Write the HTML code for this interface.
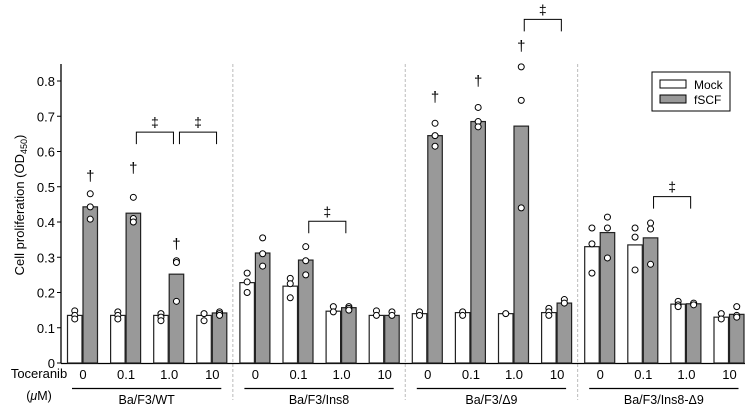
<!DOCTYPE html>
<html><head><meta charset="utf-8"><style>
html,body{margin:0;padding:0;background:#fff;}
svg{display:block;font-family:"Liberation Sans",Arial,sans-serif;}
</style></head><body>
<svg id="chart" width="749" height="406"></svg>
<script>
const groups=["Ba/F3/WT","Ba/F3/Ins8","Ba/F3/Δ9","Ba/F3/Ins8-Δ9"];
const doses=["0","0.1","1.0","10"];
const mockVals=[0.135,0.135,0.135,0.135, 0.228,0.218,0.147,0.135, 0.14,0.143,0.14,0.143, 0.33,0.335,0.167,0.13];
const fscfVals=[0.443,0.425,0.252,0.142, 0.312,0.292,0.157,0.135, 0.645,0.685,0.672,0.17, 0.37,0.355,0.168,0.138];
const mockPts=[[0.148,0.135,0.125],[0.145,0.135,0.125],[0.14,0.13,0.12],[0.14,0.12],
 [0.255,0.23,0.2],[0.24,0.225,0.185],[0.16,0.145],[0.148,0.135],
 [0.145,0.135],[0.145,0.135],[0.14],[0.155,0.145,0.135],
 [0.383,0.338,0.255],[0.383,0.357,0.264],[0.175,0.165,0.16],[0.14,0.125]];
const fscfPts=[[0.48,0.443,0.408],[0.47,0.41,0.40],[0.29,0.285,0.175],[0.145,0.14,0.135],
 [0.355,0.31,0.275],[0.33,0.29,0.25],[0.16,0.155,0.15],[0.145,0.135],
 [0.68,0.645,0.615],[0.725,0.685,0.67],[0.84,0.745,0.44],[0.18,0.17],
 [0.414,0.383,0.298],[0.397,0.38,0.28],[0.17,0.165],[0.16,0.135,0.13]];
const yTicks=[0,0.1,0.2,0.3,0.4,0.5,0.6,0.7,0.8];
const daggerIdx=[0,1,2,8,9,10];
const daggerVals=[0.53,0.553,0.338,0.755,0.80,0.90];
const bracketPairs=[[1,2],[2,3],[5,6],[10,11],[13,14]];
const bracketVals=[0.655,0.655,0.402,0.975,0.472];

const svg=document.getElementById('chart');
const NS='http://www.w3.org/2000/svg';
function mk(tag,attrs,parent){const e=document.createElementNS(NS,tag);for(const k in attrs)e.setAttribute(k,attrs[k]);(parent||svg).appendChild(e);return e;}
const y=v=>363-v*352.5;
const cx=i=>82+i*43.1;
const BW=14.5;

for(let g=1;g<4;g++){const xd=(cx(g*4-1)+cx(g*4))/2;
 const d=mk('line',{x1:xd,x2:xd,y1:64,y2:400,stroke:'#bbb','stroke-dasharray':'3,2','stroke-width':1});
 
 }
const ax=mk('line',{x1:61,x2:61,y1:64,y2:363.5,stroke:'#000','stroke-width':1.3});


const xa=mk('line',{x1:61,x2:745,y1:363.5,y2:363.5,stroke:'#000','stroke-width':1.3});


yTicks.forEach(t=>{
 mk('line',{x1:57,x2:61,y1:y(t),y2:y(t),stroke:'#000'});
 const tx=mk('text',{x:55,y:y(t)+5,'text-anchor':'end','font-size':13});
 tx.textContent=t===0?'0':t.toFixed(1);
 
 
});
const yl=mk('text',{x:0,y:0,'text-anchor':'middle','font-size':13,transform:'translate(24,205) rotate(-90)'});
yl.innerHTML='Cell proliferation (OD<tspan font-size="9" dy="3">450</tspan><tspan dy="-3">)</tspan>';



for(let i=0;i<16;i++){
 const c=cx(i);
 const mb=mk('rect',{x:c-BW,y:y(mockVals[i]),width:BW,height:363-y(mockVals[i]),fill:'#fff',stroke:'#222','stroke-width':1.2});
 
 
 const fb=mk('rect',{x:c+1,y:y(fscfVals[i]),width:BW,height:363-y(fscfVals[i]),fill:'#999',stroke:'#222','stroke-width':1.2});
 
 
 mockPts[i].forEach(v=>{const p=mk('circle',{cx:c-BW/2,cy:y(v),r:3,fill:'#fff',stroke:'#000','stroke-width':1});
  
  });
 fscfPts[i].forEach(v=>{const p=mk('circle',{cx:c+1+BW/2,cy:y(v),r:3,fill:'#fff',stroke:'#000','stroke-width':1});
  
  });
 const dl=mk('text',{x:c+1,y:379,'text-anchor':'middle','font-size':13});
 dl.textContent=doses[i%4];
 
 
}
groups.forEach((g,k)=>{
 const x1=cx(k*4)-10,x2=cx(k*4+3)+10;
 mk('line',{x1:x1,x2:x2,y1:388.5,y2:388.5,stroke:'#000','stroke-width':1.3});
 const t=mk('text',{x:(x1+x2)/2,y:404,'text-anchor':'middle','font-size':12.5});
 t.textContent=g;
 
 
});
const tl=mk('text',{x:39,y:378,'text-anchor':'middle','font-size':13});tl.textContent='Toceranib';


const ul=mk('text',{x:39,y:400,'text-anchor':'middle','font-size':12.5});ul.innerHTML='(<tspan font-style="italic">μ</tspan>M)';



daggerIdx.forEach((i,k)=>{const t=mk('text',{x:cx(i)+1+BW/2,y:y(daggerVals[k])+5,'text-anchor':'middle','font-size':15});t.textContent='†';
 
 });
bracketPairs.forEach((p,k)=>{
 const x1=cx(p[0])+1+BW/2+3,x2=cx(p[1])+1+BW/2-3,yy=y(bracketVals[k]);
 const b=mk('polyline',{points:`${x1},${yy+12} ${x1},${yy} ${x2},${yy} ${x2},${yy+12}`,fill:'none',stroke:'#000','stroke-width':1});
 
 
 const t=mk('text',{x:(x1+x2)/2,y:yy-5,'text-anchor':'middle','font-size':14});t.textContent='‡';
 
 
});
const lg=mk('g',{});


mk('rect',{x:652,y:72,width:78,height:39,fill:'#fff',stroke:'#000','stroke-width':1},lg);
mk('rect',{x:660,y:80,width:26,height:8,fill:'#fff',stroke:'#000'},lg);
mk('rect',{x:660,y:95,width:26,height:8,fill:'#999',stroke:'#000'},lg);
const l1=mk('text',{x:694,y:89,'font-size':12},lg);l1.textContent='Mock';


const l2=mk('text',{x:694,y:104,'font-size':12},lg);l2.textContent='fSCF';


</script>
</body></html>
